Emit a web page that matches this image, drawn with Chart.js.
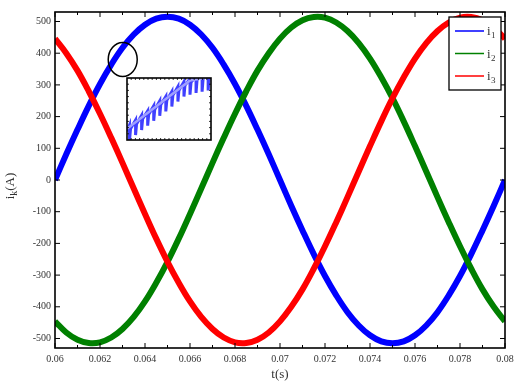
<!DOCTYPE html>
<html>
<head>
<meta charset="utf-8">
<script src="https://cdn.jsdelivr.net/npm/chart.js@4/dist/chart.umd.min.js"></script>
<style>
body { margin: 0; background: #fff; }
#wrap { position: relative; width: 529px; height: 383px; }
#insetChart { position: absolute; left: 126px; top: 77px; }
</style>
</head>
<body>
<div id="wrap">
<canvas id="mainChart" width="529" height="383"></canvas>
<canvas id="insetChart" width="86" height="64"></canvas>
</div>
<script>
// sampled time axis (s)
const timeValues = [
    0.0600, 0.0605, 0.0610, 0.0615, 0.0620, 0.0625, 0.0630, 0.0635, 0.0640, 0.0645,
    0.0650, 0.0655, 0.0660, 0.0665, 0.0670, 0.0675, 0.0680, 0.0685, 0.0690, 0.0695,
    0.0700, 0.0705, 0.0710, 0.0715, 0.0720, 0.0725, 0.0730, 0.0735, 0.0740, 0.0745,
    0.0750, 0.0755, 0.0760, 0.0765, 0.0770, 0.0775, 0.0780, 0.0785, 0.0790, 0.0795,
    0.0800
];

// phase currents (A)
const i1Values = [
    0, 81, 159, 234, 303, 364, 417, 459, 490, 509,
    515, 509, 490, 459, 417, 364, 303, 234, 159, 81,
    0, -81, -159, -234, -303, -364, -417, -459, -490, -509,
    -515, -509, -490, -459, -417, -364, -303, -234, -159, -81,
    0
];
const i2Values = [
    -446, -481, -504, -514, -512, -497, -470, -432, -383, -324,
    -258, -185, -107, -27, 54, 133, 209, 280, 345, 400,
    446, 481, 504, 514, 512, 497, 470, 432, 383, 324,
    258, 185, 107, 27, -54, -133, -209, -280, -345, -400,
    -446
];
const i3Values = [
    446, 400, 345, 280, 209, 133, 54, -27, -107, -185,
    -258, -324, -383, -432, -470, -497, -512, -514, -504, -481,
    -446, -400, -345, -280, -209, -133, -54, 27, 107, 185,
    258, 324, 383, 432, 470, 497, 512, 514, 504, 481,
    446
];

const seriesNames = ['1', '2', '3'];
const seriesColors = ['#0000ff', '#008000', '#ff0000'];

const xTicks = [0.06, 0.062, 0.064, 0.066, 0.068, 0.07, 0.072, 0.074, 0.076, 0.078, 0.08];
const yTicks = [-500, -400, -300, -200, -100, 0, 100, 200, 300, 400, 500];

// zoomed detail (arbitrary units, no labels in the figure)
const insetTime = [
    0,
    0.3, 0.3, 0.42, 1.02, 1.02, 1.14, 1.74, 1.74, 1.86, 2.46, 2.46, 2.58,
    3.18, 3.18, 3.30, 3.9, 3.9, 4.02, 4.62, 4.62, 4.74, 5.34, 5.34, 5.46,
    6.06, 6.06, 6.18, 6.78, 6.78, 6.90, 7.5, 7.5, 7.62, 8.22, 8.22, 8.34,
    8.94, 8.94, 9.06, 9.66, 9.66, 9.78,
    10
];
const insetCurrent = [
    1.4,
    2.4, 0.0, 1.8, 3.2, 0.8, 2.6, 4.0, 1.6, 3.4, 4.7, 2.3, 4.1,
    5.5, 3.1, 4.9, 6.3, 3.9, 5.7, 7.0, 4.6, 6.4, 7.8, 5.4, 7.2,
    8.6, 6.2, 8.0, 9.4, 7.0, 8.8, 9.9, 7.3, 9.3, 10.3, 7.6, 9.7,
    10.5, 7.8, 9.9, 10.6, 8.0, 10.0,
    10.4
];
const insetTrendTime = [0, 7.5, 10];
const insetTrendCurrent = [1.8, 9.6, 10.2];

// marker circle around the zoomed region
const markerT = 0.06301;
const markerI = 380;

const FONT = 'Liberation Serif';
const TEXT_COLOR = '#333';

function toPoints(xs, ys) {
    return xs.map((x, i) => ({ x: x, y: ys[i] }));
}

// box + inward ticks, MATLAB style
const framePlugin = {
    id: 'frame',
    afterDatasetsDraw(chart) {
        const { ctx, chartArea: a, scales: { x, y } } = chart;
        ctx.save();
        ctx.strokeStyle = '#000';
        ctx.lineWidth = 1;
        ctx.beginPath();
        for (let k = 0; k <= 20; k++) {
            const px = x.getPixelForValue(0.06 + k * 0.001);
            const len = k % 2 === 0 ? 5 : 3;
            ctx.moveTo(px, a.bottom); ctx.lineTo(px, a.bottom - len);
            ctx.moveTo(px, a.top); ctx.lineTo(px, a.top + len);
        }
        yTicks.forEach(v => {
            const py = y.getPixelForValue(v);
            ctx.moveTo(a.left, py); ctx.lineTo(a.left + 5, py);
            ctx.moveTo(a.right, py); ctx.lineTo(a.right - 5, py);
        });
        ctx.stroke();
        ctx.lineWidth = 1.6;
        ctx.strokeRect(a.left, a.top, a.right - a.left, a.bottom - a.top);
        ctx.restore();
    }
};

const decorPlugin = {
    id: 'decor',
    afterDraw(chart) {
        const { ctx, chartArea: a, scales: { x, y } } = chart;
        ctx.save();

        // circle marking the zoomed spot
        ctx.strokeStyle = '#000';
        ctx.lineWidth = 1.5;
        ctx.beginPath();
        ctx.ellipse(x.getPixelForValue(markerT), y.getPixelForValue(markerI), 14.5, 17, 0, 0, Math.PI * 2);
        ctx.stroke();

        // legend
        const lx = 449, ly = 17, lw = 52, lh = 73;
        ctx.fillStyle = '#fff';
        ctx.fillRect(lx, ly, lw, lh);
        ctx.lineWidth = 1.3;
        ctx.strokeRect(lx, ly, lw, lh);
        seriesNames.forEach((n, i) => {
            const ry = 31 + i * 22.5;
            ctx.strokeStyle = seriesColors[i];
            ctx.lineWidth = 1.5;
            ctx.beginPath();
            ctx.moveTo(455, ry); ctx.lineTo(484, ry);
            ctx.stroke();
            ctx.fillStyle = TEXT_COLOR;
            ctx.textBaseline = 'alphabetic';
            ctx.textAlign = 'left';
            ctx.font = `13px "${FONT}"`;
            ctx.fillText('i', 487, ry + 4);
            ctx.font = `9px "${FONT}"`;
            ctx.fillText(n, 491, ry + 7);
        });

        // axis titles
        ctx.fillStyle = TEXT_COLOR;
        ctx.font = `13px "${FONT}"`;
        ctx.textAlign = 'center';
        ctx.textBaseline = 'middle';
        ctx.fillText('t(s)', (a.left + a.right) / 2, 375);

        ctx.translate(14, 186);
        ctx.rotate(-Math.PI / 2);
        ctx.textAlign = 'left';
        ctx.textBaseline = 'alphabetic';
        ctx.font = `13px "${FONT}"`;
        const wi = ctx.measureText('i').width;
        ctx.font = `10px "${FONT}"`;
        const wk = ctx.measureText('k').width;
        ctx.font = `13px "${FONT}"`;
        const wa = ctx.measureText('(A)').width;
        let sx = -(wi + wk + wa) / 2;
        ctx.fillText('i', sx, 0);
        sx += wi;
        ctx.font = `10px "${FONT}"`;
        ctx.fillText('k', sx, 3);
        sx += wk;
        ctx.font = `13px "${FONT}"`;
        ctx.fillText('(A)', sx, 0);

        ctx.restore();
    }
};

const tickFont = { family: FONT, size: 10 };

new Chart(document.getElementById('mainChart').getContext('2d'), {
    type: 'line',
    data: {
        datasets: [
            { label: 'i1', data: toPoints(timeValues, i1Values), borderColor: seriesColors[0], order: 2 },
            { label: 'i2', data: toPoints(timeValues, i2Values), borderColor: seriesColors[1], order: 1 },
            { label: 'i3', data: toPoints(timeValues, i3Values), borderColor: seriesColors[2], order: 0 }
        ]
    },
    options: {
        responsive: false,
        animation: false,
        layout: { padding: { top: 12, right: 24, left: 0, bottom: 0 } },
        elements: {
            point: { radius: 0 },
            line: { borderWidth: 6, tension: 0.4, fill: false }
        },
        plugins: {
            legend: { display: false },
            tooltip: { enabled: false }
        },
        scales: {
            x: {
                type: 'linear',
                min: 0.06,
                max: 0.08,
                afterBuildTicks: s => { s.ticks = xTicks.map(v => ({ value: v })); },
                afterFit: s => { s.height = 35; },
                grid: { display: false, drawTicks: false },
                border: { display: false },
                ticks: {
                    padding: 5,
                    color: TEXT_COLOR,
                    font: tickFont,
                    maxRotation: 0,
                    autoSkip: false,
                    callback: v => String(+v.toFixed(3))
                }
            },
            y: {
                type: 'linear',
                min: -530,
                max: 530,
                afterBuildTicks: s => { s.ticks = yTicks.map(v => ({ value: v })); },
                afterFit: s => { s.width = 55; },
                grid: { display: false, drawTicks: false },
                border: { display: false },
                ticks: {
                    padding: 4,
                    color: TEXT_COLOR,
                    font: tickFont,
                    autoSkip: false
                }
            }
        }
    },
    plugins: [framePlugin, decorPlugin]
});

// inset: zoomed ripple
const insetFrame = {
    id: 'insetFrame',
    beforeDraw(chart) {
        const { ctx, chartArea: a } = chart;
        ctx.save();
        ctx.fillStyle = '#fff';
        ctx.fillRect(a.left, a.top, a.right - a.left, a.bottom - a.top);
        ctx.restore();
    },
    afterDraw(chart) {
        const { ctx, chartArea: a, scales: { x, y } } = chart;
        ctx.save();
        ctx.strokeStyle = '#000';
        ctx.lineWidth = 0.8;
        ctx.beginPath();
        for (let k = 1; k < 20; k++) {
            const px = x.getPixelForValue(k * 0.5);
            ctx.moveTo(px, a.bottom); ctx.lineTo(px, a.bottom - 2);
            ctx.moveTo(px, a.top); ctx.lineTo(px, a.top + 2);
        }
        for (let k = 1; k < 10; k++) {
            const py = y.getPixelForValue(k);
            ctx.moveTo(a.left, py); ctx.lineTo(a.left + 2, py);
            ctx.moveTo(a.right, py); ctx.lineTo(a.right - 2, py);
        }
        ctx.stroke();
        ctx.lineWidth = 1.6;
        ctx.strokeRect(a.left, a.top, a.right - a.left, a.bottom - a.top);
        ctx.restore();
    }
};

new Chart(document.getElementById('insetChart').getContext('2d'), {
    type: 'line',
    data: {
        datasets: [
            {
                data: toPoints(insetTrendTime, insetTrendCurrent),
                borderColor: 'rgba(170,170,255,0.9)',
                borderWidth: 2.5,
                order: 0
            },
            {
                data: toPoints(insetTime, insetCurrent),
                borderColor: 'rgba(30,30,255,0.85)',
                borderWidth: 3,
                order: 1
            }
        ]
    },
    options: {
        responsive: false,
        animation: false,
        layout: { padding: 1 },
        elements: { point: { radius: 0 }, line: { tension: 0 } },
        plugins: { legend: { display: false }, tooltip: { enabled: false } },
        scales: {
            x: { type: 'linear', min: 0, max: 10, display: false },
            y: { type: 'linear', min: 0, max: 10, display: false }
        }
    },
    plugins: [insetFrame]
});
</script>
</body>
</html>
